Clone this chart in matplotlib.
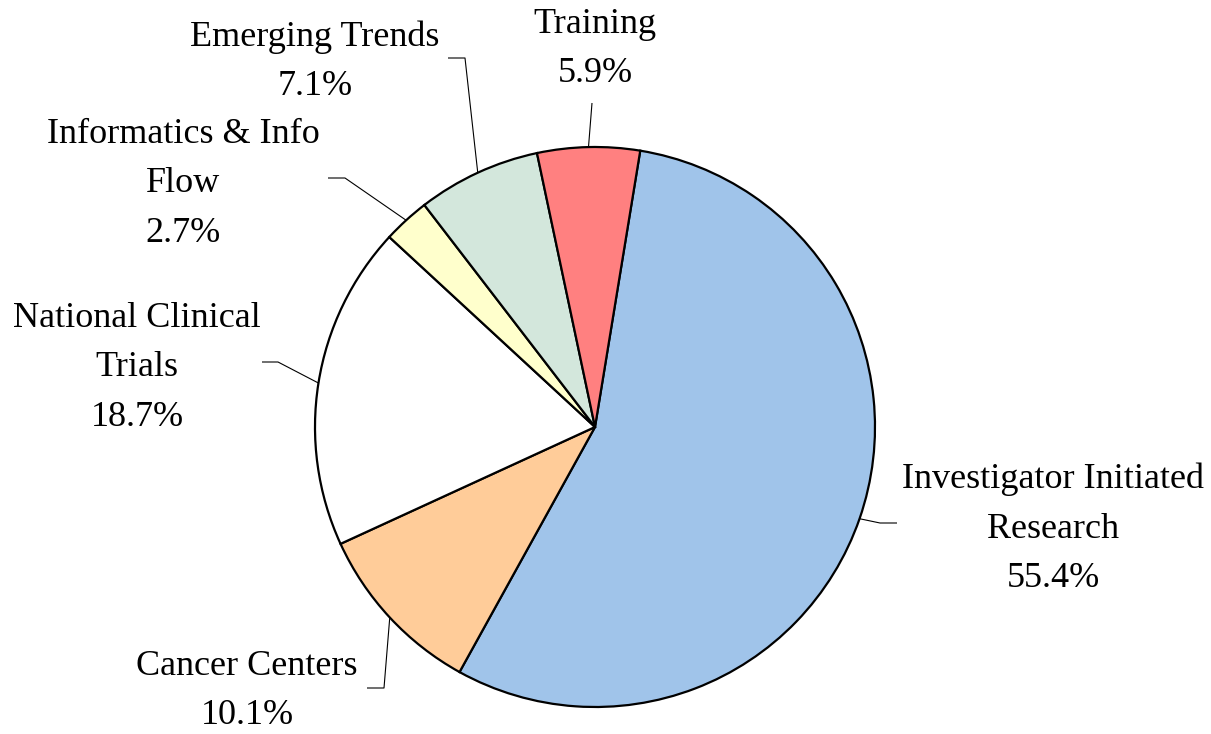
import numpy as np
import matplotlib.pyplot as plt

# Budget share by category
labels = ['Investigator Initiated\nResearch', 'Cancer Centers', 'National Clinical\nTrials',
          'Informatics & Info\nFlow', 'Emerging Trends', 'Training']
shares = [55.4, 10.1, 18.7, 2.7, 7.1, 5.9]
colors = ['#A0C4EA', '#FFCC99', '#FFFFFF', '#FFFFCC', '#D3E7DC', '#FF8080']

plt.rcParams['font.family'] = ['Liberation Serif', 'DejaVu Serif']

W, H = 1211, 734
cx, cy, R = 595, 427, 280  # pie centre / radius in pixels


def px(x, y):
    # pixel position -> data units (pie radius = 1)
    return (x - cx) / R, (cy - y) / R


fig = plt.figure(figsize=(W / 100, H / 100), dpi=100)
ax = fig.add_axes([0, 0, 1, 1])

wedges, _ = ax.pie(shares, colors=colors, startangle=80.7, counterclock=False,
                   radius=1, center=(0, 0), frame=True,
                   wedgeprops=dict(edgecolor='black', linewidth=1.6))
ax.set_xlim(px(0, 0)[0], px(W, 0)[0])
ax.set_ylim(px(0, H)[1], px(0, 0)[1])
ax.set_aspect('equal')
ax.axis('off')

# leader line bends and label centres (pixels)
leaders = [
    [(880, 523), (897, 523)],
    [(384, 688), (367, 688)],
    [(278, 362), (262, 362)],
    [(345, 178), (328, 178)],
    [(465, 58), (448, 58)],
    [(592, 103)],
]
label_pos = [(1053, 529), (247, 691), (137, 368), (183, 184), (315, 62), (595, 49)]

for w, s, lab, pts, lp in zip(wedges, shares, labels, leaders, label_pos):
    mid = np.deg2rad((w.theta1 + w.theta2) / 2)
    xs = [np.cos(mid)] + [px(*p)[0] for p in pts]
    ys = [np.sin(mid)] + [px(*p)[1] for p in pts]
    ax.plot(xs, ys, color='black', lw=0.8, solid_capstyle='butt')
    ax.text(*px(*lp), f'{lab}\n{s:.1f}%', ha='center', va='center',
            fontsize=26, linespacing=1.65)

fig.savefig('out.png', dpi=100, facecolor='white')
